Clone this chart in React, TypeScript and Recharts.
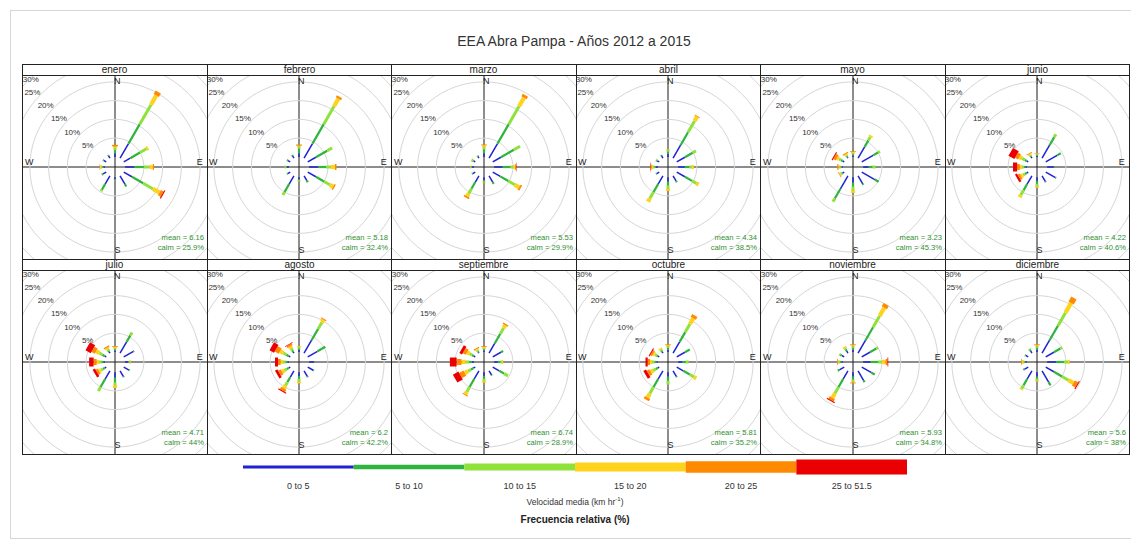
import React from 'react';
import { ScatterChart, Scatter, XAxis, YAxis, ReferenceLine } from 'recharts';

// ---- data -------------------------------------------------------------
const months = [
  'enero', 'febrero', 'marzo', 'abril', 'mayo', 'junio',
  'julio', 'agosto', 'septiembre', 'octubre', 'noviembre', 'diciembre',
];
// wind direction of each row (degrees, clockwise from north)
const directions = [0, 30, 60, 90, 120, 150, 180, 210, 240, 270, 300, 330];
const speedBins = ['0 to 5', '5 to 10', '10 to 15', '15 to 20', '20 to 25', '25 to 51.5'];
const ringTicks = [5, 10, 15, 20, 25, 30];
const meanSpeed = ['6.16', '5.18', '5.53', '4.34', '3.23', '4.22', '4.71', '6.2', '6.74', '5.81', '5.93', '5.6'];
const calmPct = ['25.9%', '32.4%', '29.9%', '38.5%', '45.3%', '40.6%', '44%', '42.2%', '28.9%', '35.2%', '34.8%', '38%'];

// relative frequency (%) — rows: directions, columns: speed bins
const enero = [
  [1.0, 0.8, 0.5, 0.5, 0.4, 0], [4.5, 6.0, 6.0, 2.8, 1.1, 0], [2.0, 3.0, 2.0, 0.5, 0, 0],
  [2.5, 2.5, 1.5, 0.9, 0.3, 0], [2.5, 3.5, 3.0, 2.0, 0.8, 0.3], [2.5, 0.8, 0, 0, 0, 0],
  [0.5, 0.2, 0.1, 0, 0, 0], [2.5, 1.8, 0.5, 0, 0, 0], [1.0, 0.3, 0.1, 0, 0, 0],
  [0.4, 0.3, 0.3, 0.3, 0.1, 0], [0.8, 0.2, 0, 0, 0, 0], [0.8, 0.2, 0, 0, 0, 0],
];
const febrero = [
  [1.0, 1.2, 0.5, 0.3, 0.3, 0], [4.5, 6.0, 5.5, 2.3, 0.6, 0], [2.5, 3.5, 1.5, 0, 0, 0],
  [2.5, 2.0, 1.2, 1.2, 0.4, 0], [2.5, 2.5, 1.8, 1.0, 0.4, 0], [1.5, 0.5, 0, 0, 0, 0],
  [0.5, 0.3, 0.2, 0.1, 0, 0], [2.5, 2.5, 0.9, 0, 0, 0], [0.8, 0.2, 0, 0, 0, 0],
  [0.5, 0.3, 0.2, 0.1, 0, 0], [0.7, 0.3, 0, 0, 0, 0], [0.7, 0.3, 0, 0, 0, 0],
];
const marzo = [
  [1.0, 1.0, 0.6, 0.5, 0.2, 0], [4.5, 6.0, 5.5, 2.6, 0.8, 0], [2.5, 4.0, 1.9, 0, 0, 0],
  [2.3, 2.0, 0.8, 0.5, 0.3, 0.1], [2.3, 2.5, 2.0, 1.3, 0.5, 0], [2.0, 0.5, 0, 0, 0, 0],
  [0.8, 0.4, 0.2, 0.1, 0, 0], [2.0, 2.0, 1.5, 0.8, 0.5, 0], [0.8, 0.2, 0, 0, 0, 0],
  [0.5, 0.2, 0.2, 0.1, 0, 0], [0.5, 0.3, 0.3, 0.1, 0, 0], [0.6, 0.2, 0, 0, 0, 0],
];
const abril = [
  [0.8, 0.6, 0.4, 0.2, 0, 0], [4.0, 4.0, 3.5, 1.3, 0.2, 0], [2.5, 2.4, 1.0, 0, 0, 0],
  [1.8, 1.2, 0.7, 0.5, 0, 0], [2.5, 2.2, 1.4, 0.6, 0, 0], [1.6, 0.4, 0, 0, 0, 0],
  [1.2, 1.0, 0.9, 0.6, 0, 0], [2.5, 2.5, 2.0, 1.0, 0, 0], [0.8, 0.2, 0, 0, 0, 0],
  [0.5, 0.4, 0.4, 0.4, 0.3, 0.1], [0.6, 0.3, 0.1, 0, 0, 0], [0.7, 0.3, 0, 0, 0, 0],
];
const mayo = [
  [0.4, 0.3, 0.3, 0.3, 0.2, 0], [3.5, 2.0, 1.0, 0.5, 0, 0], [3.5, 1.5, 0.6, 0, 0, 0],
  [1.5, 1.0, 0.8, 0, 0, 0], [4.0, 1.2, 0, 0, 0, 0], [2.5, 0.3, 0, 0, 0, 0],
  [1.5, 1.0, 1.0, 0.7, 0, 0], [4.0, 3.0, 1.0, 0, 0, 0], [0.5, 0.3, 0.3, 0.2, 0.2, 0],
  [0.3, 0.3, 0.3, 0.3, 0.3, 0], [0.5, 0.5, 0.6, 0.6, 0.7, 0.3], [0.3, 0.3, 0.3, 0.3, 0.3, 0],
];
const junio = [
  [0.3, 0.2, 0.2, 0.2, 0.1, 0], [4.0, 2.5, 0.9, 0, 0, 0], [3.5, 1.1, 0, 0, 0, 0],
  [1.8, 0.2, 0, 0, 0, 0], [3.0, 0.2, 0, 0, 0, 0], [1.8, 0.2, 0, 0, 0, 0],
  [1.0, 0.8, 0.6, 0.4, 0, 0], [2.5, 2.0, 1.5, 0.6, 0, 0], [0.5, 0.5, 0.6, 0.6, 0.6, 0.6],
  [0.4, 0.4, 0.5, 0.6, 0.7, 1.1], [0.5, 0.6, 0.8, 0.8, 0.9, 1.8], [0.4, 0.3, 0.3, 0.3, 0.2, 0],
];
const julio = [
  [0.4, 0.3, 0.3, 0.3, 0.2, 0], [3.5, 2.0, 0.9, 0, 0, 0], [3.0, 0.2, 0, 0, 0, 0],
  [0.8, 0.3, 0.2, 0.2, 0, 0], [1.6, 0.2, 0, 0, 0, 0], [1.8, 0.2, 0, 0, 0, 0],
  [1.5, 1.2, 0.8, 0.7, 0, 0], [2.5, 2.5, 1.2, 0, 0, 0], [0.5, 0.5, 0.6, 0.6, 0.6, 0.7],
  [0.4, 0.5, 0.6, 0.7, 0.8, 1.2], [0.5, 0.7, 0.9, 1.0, 1.0, 1.6], [0.4, 0.4, 0.4, 0.4, 0.4, 0],
];
const agosto = [
  [0.5, 0.4, 0.3, 0.3, 0, 0], [4.0, 3.5, 2.0, 0.8, 0.3, 0], [3.0, 2.4, 0, 0, 0, 0],
  [1.3, 0.2, 0, 0, 0, 0], [1.7, 0.2, 0, 0, 0, 0], [1.8, 0.2, 0, 0, 0, 0],
  [1.0, 0.8, 0.7, 0.5, 0, 0], [2.0, 1.5, 1.0, 0.9, 0.7, 0.3], [0.5, 0.6, 0.7, 0.7, 0.8, 0.7],
  [0.4, 0.5, 0.6, 0.7, 0.7, 0.8], [0.5, 0.7, 0.9, 1.0, 1.2, 1.4], [0.4, 0.5, 0.6, 0.6, 0.5, 0.2],
];
const septiembre = [
  [0.4, 0.3, 0.3, 0.3, 0.2, 0], [3.0, 3.0, 1.8, 0.8, 0.4, 0], [2.5, 0.7, 0, 0, 0, 0],
  [1.0, 0.7, 0.4, 0.3, 0, 0], [2.0, 1.5, 1.2, 0, 0, 0], [1.3, 0.2, 0, 0, 0, 0],
  [1.0, 0.8, 0.6, 0.4, 0, 0], [2.5, 2.5, 1.5, 0.7, 0.3, 0], [0.6, 0.7, 0.9, 1.0, 1.3, 1.7],
  [0.6, 0.7, 0.9, 1.1, 1.3, 1.8], [0.5, 0.5, 0.7, 0.8, 0.9, 0.8], [0.3, 0.3, 0.3, 0.3, 0.3, 0],
];
const octubre = [
  [0.6, 0.5, 0.4, 0.3, 0.2, 0], [3.5, 3.0, 2.5, 1.8, 0.8, 0], [2.5, 1.5, 0, 0, 0, 0],
  [1.2, 0.9, 0.7, 0, 0, 0], [2.0, 2.0, 1.3, 0.7, 0, 0], [1.8, 0.2, 0, 0, 0, 0],
  [1.2, 1.1, 1.0, 0, 0, 0], [2.5, 2.5, 2.0, 1.2, 0.7, 0], [0.5, 0.6, 0.7, 0.8, 0.8, 0.8],
  [0.4, 0.5, 0.6, 0.6, 0.6, 0.6], [0.4, 0.4, 0.5, 0.5, 0.5, 0.3], [0.4, 0.4, 0.4, 0.3, 0, 0],
];
const noviembre = [
  [0.6, 0.5, 0.4, 0.3, 0.2, 0], [4.0, 4.0, 3.5, 2.5, 1.0, 0], [2.5, 2.0, 0.5, 0, 0, 0],
  [2.0, 2.0, 1.0, 1.0, 0.5, 0.2], [3.0, 1.0, 0, 0, 0, 0], [3.0, 0.5, 0, 0, 0, 0],
  [1.2, 0.8, 0.5, 0.3, 0.2, 0], [2.5, 2.5, 2.0, 1.3, 0.7, 0.3], [1.5, 0.5, 0, 0, 0, 0],
  [0.4, 0.4, 0.3, 0.2, 0.2, 0], [0.8, 0.4, 0.3, 0, 0, 0], [0.7, 0.5, 0.4, 0.4, 0, 0],
];
const diciembre = [
  [0.6, 0.5, 0.4, 0.3, 0.2, 0], [4.0, 4.5, 4.0, 3.0, 1.5, 0], [2.5, 2.0, 0.5, 0, 0, 0],
  [2.5, 2.0, 1.0, 0.5, 0, 0], [2.5, 2.5, 2.0, 1.5, 1.0, 0.3], [3.5, 1.0, 0, 0, 0, 0],
  [1.2, 0.6, 0.4, 0.3, 0, 0], [2.5, 2.0, 1.0, 0.3, 0, 0], [1.2, 0.3, 0, 0, 0, 0],
  [0.4, 0.3, 0.3, 0.3, 0.2, 0], [0.8, 0.2, 0, 0, 0, 0], [0.7, 0.4, 0.3, 0, 0, 0],
];
const monthlyFreq = [enero, febrero, marzo, abril, mayo, junio, julio, agosto, septiembre, octubre, noviembre, diciembre];

// ---- styling ----------------------------------------------------------
const binColors = ['#1f22d2', '#2fb43e', '#8ee23a', '#ffd21c', '#ff8a00', '#ea0000'];
const paddleWidths = [1.5, 2.2, 3.0, 4.2, 6, 9];
const legendHeights = [3, 4.5, 7, 9, 11.5, 15];
const FONT = '"Liberation Sans", Arial, Helvetica, sans-serif';

const PANEL = 184;
const COL_PITCH = 184.5;
const GRID_LEFT = 22;
const ROW_TOPS = [64, 259];
const STRIP_H = 11;
const PX_PER_UNIT = 3.75;
const DOM = PANEL / 2 / PX_PER_UNIT;
const CENTER_OFFSET = 2.7; // empty hub in the middle of each rose (in % units)

type Pt = { x: number; y: number; label?: string };

const polar = (r: number, deg: number): Pt => ({
  x: r * Math.sin((deg * Math.PI) / 180),
  y: r * Math.cos((deg * Math.PI) / 180),
});

const ringPoints = (r: number): Pt[] => {
  const pts: Pt[] = [];
  for (let a = 0; a <= 360; a += 5) pts.push(polar(r, a));
  return pts;
};

const noShape = () => <g />;

function buildSegments(freq: number[][]) {
  const segs: { key: string; bin: number; pts: Pt[] }[] = [];
  freq.forEach((row, d) => {
    let r = CENTER_OFFSET;
    row.forEach((v, b) => {
      if (v <= 0) return;
      segs.push({ key: `${d}-${b}`, bin: b, pts: [polar(r, directions[d]), polar(r + v, directions[d])] });
      r += v;
    });
  });
  return segs.sort((a, b) => a.bin - b.bin);
}

// ring labels sit on the north-west diagonal; the outermost one is kept inside the panel corner
const ringLabelData: Pt[] = ringTicks.map((t) => {
  const p = polar(CENTER_OFFSET + t, 315);
  return {
    x: Math.max(p.x - 0.3, -DOM + 4.2),
    y: Math.min(p.y + 0.2, DOM - 1.3),
    label: `${t}%`,
  };
});

const compassData: Pt[] = [
  { x: 0.6, y: 22.7, label: 'N' },
  { x: 22.6, y: 1.1, label: 'E' },
  { x: 0.7, y: -22.2, label: 'S' },
  { x: -22.9, y: 1.2, label: 'W' },
];

const RingLabel = (p: any) => (
  <text x={p.cx} y={p.cy} textAnchor="end" dominantBaseline="middle" fontSize={8} fill="#333" fontFamily={FONT}>
    {p.payload.label}
  </text>
);
const CompassLabel = (p: any) => (
  <text x={p.cx} y={p.cy} textAnchor="middle" dominantBaseline="middle" fontSize={9} fill="#222" fontFamily={FONT}>
    {p.payload.label}
  </text>
);

function WindRose({ freq, mean, calm }: { freq: number[][]; mean: string; calm: string }) {
  const segs = buildSegments(freq);
  return (
    <div style={{ position: 'relative', width: PANEL, height: PANEL }}>
      <ScatterChart width={PANEL} height={PANEL} margin={{ top: 0, right: 0, bottom: 0, left: 0 }}>
        <XAxis type="number" dataKey="x" domain={[-DOM, DOM]} allowDataOverflow hide />
        <YAxis type="number" dataKey="y" domain={[-DOM, DOM]} allowDataOverflow hide />
        {ringTicks.map((t) => (
          <Scatter
            key={`ring-${t}`}
            data={ringPoints(CENTER_OFFSET + t)}
            line={{ stroke: '#d6d6d6', strokeWidth: 1 }}
            shape={noShape}
            isAnimationActive={false}
          />
        ))}
        <ReferenceLine x={0} stroke="#1a1a1a" strokeWidth={1} />
        <ReferenceLine y={0} stroke="#1a1a1a" strokeWidth={1} />
        {segs.map((s) => (
          <Scatter
            key={s.key}
            data={s.pts}
            fill={binColors[s.bin]}
            line={{ stroke: binColors[s.bin], strokeWidth: paddleWidths[s.bin] }}
            shape={noShape}
            isAnimationActive={false}
          />
        ))}
        <Scatter data={ringLabelData} shape={RingLabel} isAnimationActive={false} />
        <Scatter data={compassData} shape={CompassLabel} isAnimationActive={false} />
      </ScatterChart>
      <div
        style={{
          position: 'absolute', right: 3, top: 158, fontSize: 7.6, lineHeight: '10px',
          textAlign: 'right', color: '#2f8f2f', fontFamily: FONT,
        }}
      >
        <div>mean = {mean}</div>
        <div>calm = {calm}</div>
      </div>
    </div>
  );
}

export default function App() {
  const gridRight = GRID_LEFT + COL_PITCH * 6;
  const legendLeft = 243;
  const legendRight = 907;
  const segW = (legendRight - legendLeft) / speedBins.length;
  const legendMid = 467;

  return (
    <div style={{ position: 'absolute', left: 0, top: 0, width: 1131, height: 544, background: '#fff', fontFamily: FONT }}>
      <div style={{ position: 'absolute', left: 10, top: 10, width: 1125, height: 527, border: '1px solid #d6d6d6' }} />
      <div style={{ position: 'absolute', left: 0, width: 1148, top: 33, textAlign: 'center', fontSize: 14, color: '#333' }}>
        EEA Abra Pampa - Años 2012 a 2015
      </div>

      {months.map((m, i) => {
        const col = i % 6;
        const row = Math.floor(i / 6);
        const left = GRID_LEFT + col * COL_PITCH;
        const top = ROW_TOPS[row];
        return (
          <React.Fragment key={m}>
            <div
              style={{
                position: 'absolute', left: Math.round(left), top, width: 185, height: STRIP_H,
                fontSize: 10, lineHeight: `${STRIP_H}px`, textAlign: 'center', color: '#222',
              }}
            >
              {m}
            </div>
            <div style={{ position: 'absolute', left: Math.round(left + 0.5), top: top + STRIP_H }}>
              <WindRose freq={monthlyFreq[i]} mean={meanSpeed[i]} calm={calmPct[i]} />
            </div>
          </React.Fragment>
        );
      })}

      {/* panel frames */}
      <svg style={{ position: 'absolute', left: 0, top: 0, pointerEvents: 'none' }} width={1131} height={544}>
        {ROW_TOPS.map((t) => (
          <g key={t}>
            <line x1={GRID_LEFT} x2={gridRight} y1={t + 0.5} y2={t + 0.5} stroke="#222" />
            <line x1={GRID_LEFT} x2={gridRight} y1={t + STRIP_H + 0.5} y2={t + STRIP_H + 0.5} stroke="#222" />
            <line x1={GRID_LEFT} x2={gridRight} y1={t + STRIP_H + PANEL + 0.5} y2={t + STRIP_H + PANEL + 0.5} stroke="#222" />
            {Array.from({ length: 7 }).map((_, c) => {
              const x = Math.round(GRID_LEFT + c * COL_PITCH) + 0.5;
              return <line key={c} x1={x} x2={x} y1={t} y2={t + STRIP_H + PANEL + 1} stroke="#222" />;
            })}
          </g>
        ))}

        {/* speed legend */}
        {speedBins.map((lab, b) => (
          <g key={lab}>
            <rect
              x={legendLeft + b * segW}
              y={legendMid - legendHeights[b] / 2}
              width={segW}
              height={legendHeights[b]}
              fill={binColors[b]}
            />
            <text x={legendLeft + (b + 0.5) * segW} y={489} textAnchor="middle" fontSize={9} fill="#333" fontFamily={FONT}>
              {lab}
            </text>
          </g>
        ))}
        <text x={575} y={505} textAnchor="middle" fontSize={8.5} fill="#333" fontFamily={FONT}>
          Velocidad media (km hr<tspan dy={-4} fontSize={6}>-1</tspan><tspan dy={4}>)</tspan>
        </text>
        <text x={575} y={523} textAnchor="middle" fontSize={10} fontWeight="bold" fill="#222" fontFamily={FONT}>
          Frecuencia relativa (%)
        </text>
      </svg>
    </div>
  );
}
